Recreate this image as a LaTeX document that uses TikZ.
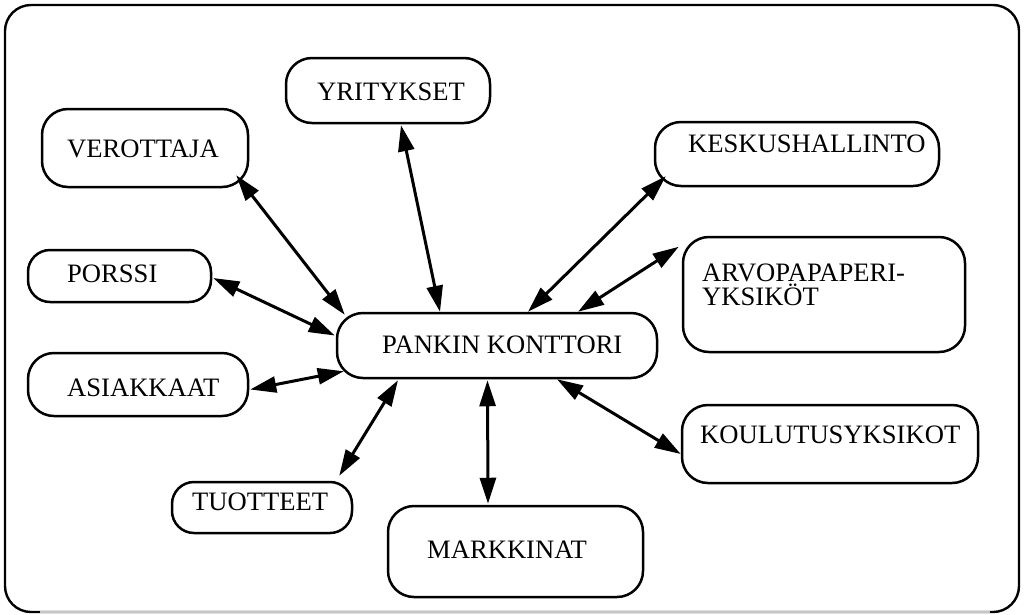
\documentclass[tikz,border=0pt]{standalone}
\usepackage{fontspec}
\setmainfont{Liberation Serif}
\usetikzlibrary{arrows.meta,calc}

\tikzset{
  box/.style={draw, line width=2.5pt, rounded corners=26pt, inner sep=0pt},
  txt/.style={anchor=base west, inner sep=0pt, font=\fontsize{26.6}{24}\selectfont, align=left},
  link/.style={line width=3pt, {Triangle[length=26pt,width=16pt]}-{Triangle[length=26pt,width=16pt]}},
}

\begin{document}
\begin{tikzpicture}[x=1pt, y=-1pt]
  \useasboundingbox (0,0) rectangle (1024,614);

  % outer frame
  \draw[line width=2.4pt, rounded corners=26pt] (5,5) rectangle (1019,612);
  \draw[line width=2.6pt, gray!45] (40,612) -- (990,612);

  % boxes
  \node[box, minimum width=204pt, minimum height=65pt] (yri) at (388,90.5) {};
  \node[box, minimum width=206pt, minimum height=78pt] (ver) at (145,148) {};
  \node[box, minimum width=183pt, minimum height=52pt, rounded corners=22pt] (por) at (119.5,276) {};
  \node[box, minimum width=220pt, minimum height=63pt] (asi) at (138,384.5) {};
  \node[box, minimum width=180pt, minimum height=51pt, rounded corners=22pt] (tuo) at (262,507.5) {};
  \node[box, minimum width=320pt, minimum height=65pt] (pk) at (497,345.5) {};
  \node[box, minimum width=255pt, minimum height=91pt] (mar) at (515.5,551.5) {};
  \node[box, minimum width=296pt, minimum height=78pt] (kou) at (830,444) {};
  \node[box, minimum width=282pt, minimum height=115pt] (arv) at (824,294.5) {};
  \node[box, minimum width=284pt, minimum height=64pt] (kes) at (797,154) {};

  % labels
  \node[txt] (tyri) at (317,100) {YRITYKSET};
  \node[txt] (tver) at (67,157) {VEROTTAJA};
  \node[txt] (tpor) at (67,282) {PORSSI};
  \node[txt] (tasi) at (67,396) {ASIAKKAAT};
  \node[txt] (ttuo) at (192,510) {TUOTTEET};
  \node[txt] (tpk)  at (382,353) {PANKIN KONTTORI};
  \node[txt] (tmar) at (427,558) {MARKKINAT};
  \node[txt] (tkou) at (700,443) {KOULUTUSYKSIKOT};
  \node[txt] (tarv) at (702,305) {ARVOPAPAPERI-\\YKSIKÖT};
  \node[txt] (tkes) at (688,152) {KESKUSHALLINTO};

  % links to the central office
  \draw[link] ($(ver.south east)+(-13,-13)$) -- ($(pk.north west)+(9,3)$);
  \draw[link] ($(yri.south)+(13,1)$) -- ($(pk.north)+(-57,0)$);
  \draw[link] ($(por.east)+(1,2)$) -- ($(pk.west)+(-1,-10)$);
  \draw[link] ($(asi.east)+(1,5)$) -- ($(pk.south west)+(8,-8)$);
  \draw[link] ($(tuo.north east)+(-14,-5)$) -- ($(pk.south)+(-99,1)$);
  \draw[link] ($(mar.north)+(-27.5,-1)$) -- ($(pk.south)+(-9.5,1)$);
  \draw[link] ($(kou.west)+(0,10)$) -- ($(pk.south)+(60,0)$);
  \draw[link] ($(arv.north west)+(-3,11)$) -- ($(pk.north)+(81,0)$);
  \draw[link] ($(kes.south west)+(12,-11)$) -- ($(pk.north)+(31,0)$);
\end{tikzpicture}
\end{document}
